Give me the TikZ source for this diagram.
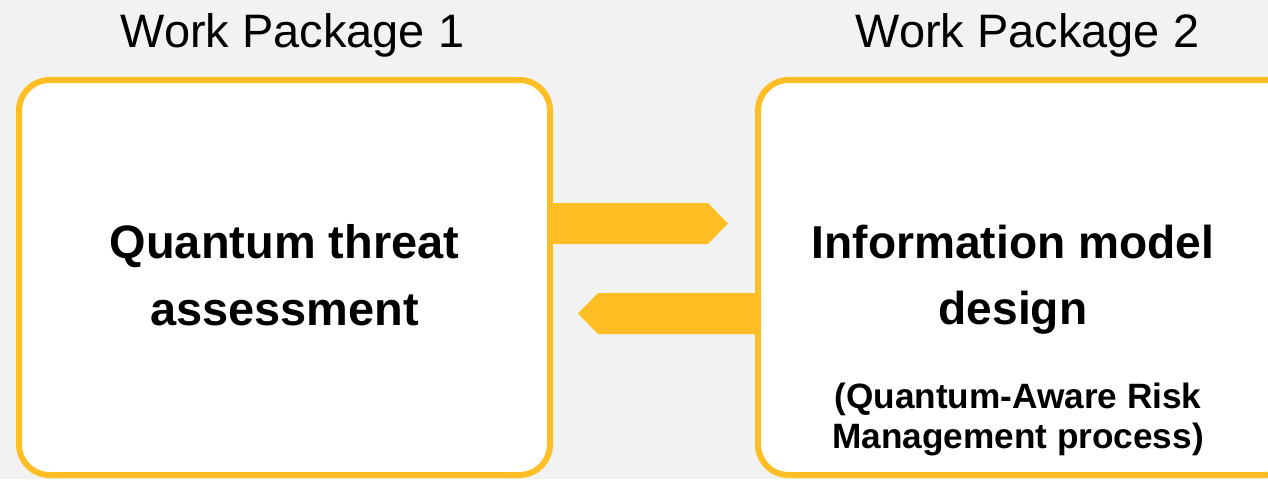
\documentclass[tikz,border=0pt]{standalone}
\usepackage{fontspec}
\setmainfont{Liberation Sans}
\definecolor{wpgold}{HTML}{FFBF24}
\definecolor{wpbg}{HTML}{F2F2F2}
\begin{document}
\begin{tikzpicture}[x=0.75pt,y=-0.75pt,
  wpbox/.style={draw=wpgold,line width=4.5pt,fill=white,rounded corners=23pt,
    rectangle,inner sep=0pt,minimum height=296.25pt},
  wphead/.style={anchor=base,inner sep=0pt,font=\fontsize{35.2}{40}\selectfont},
  wpmain/.style={anchor=base,inner sep=0pt,font=\fontsize{35.2}{40}\selectfont\bfseries},
  wpsub/.style={anchor=base,inner sep=0pt,font=\fontsize{26.4}{30}\selectfont\bfseries},
  wparrow/.style={fill=wpgold,draw=none}]
\useasboundingbox (0,0) rectangle (1268,479);
\clip (0,0) rectangle (1268,479);
\fill[wpbg] (0,0) rectangle (1268,479);
% boxes
\node[wpbox,minimum width=398.25pt] (b1) at (284.5,277.5) {};
\node[wpbox,minimum width=402.75pt] (b2) at (1026.5,277.5) {};
% block arrows
\fill[wparrow] (b1.east |- 0,203) -- (708,203) -- (728,223.5) -- (708,244) -- (b1.east |- 0,244) -- cycle;
\fill[wparrow] (b2.west |- 0,293) -- (598,293) -- (578,313.5) -- (598,334) -- (b2.west |- 0,334) -- cycle;
% headings
\node[wphead] (h1) at (292.5,47) {Work Package 1};
\node[wphead] (h2) at (1027.5,47) {Work Package 2};
% box texts
\node[wpmain] (t1a) at (284.5,258) {Quantum threat};
\node[wpmain] (t1b) at (284.5,325) {assessment};
\node[wpmain,font=\fontsize{34.6}{40}\selectfont\bfseries] (t2a) at (1013,258) {Information model};
\node[wpmain,font=\fontsize{34.6}{40}\selectfont\bfseries] (t2b) at (1013,324) {design};
\node[wpsub] (t2c) at (1018,408) {(Quantum-Aware Risk};
\node[wpsub] (t2d) at (1018,448) {Management process)};
\end{tikzpicture}
\end{document}
